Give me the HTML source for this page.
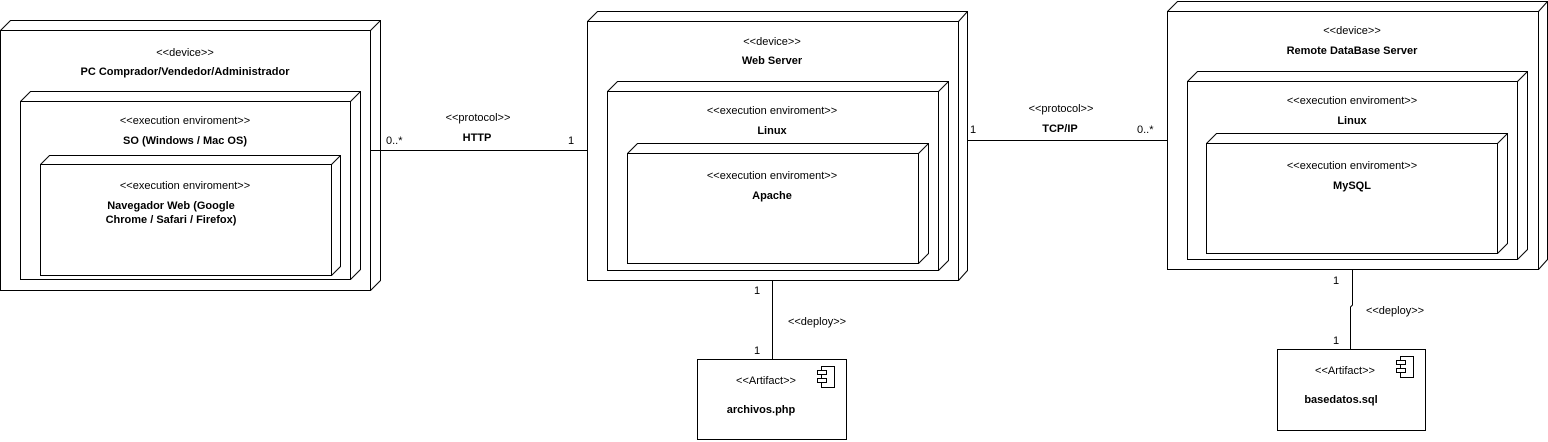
<!DOCTYPE html>
<html><head><meta charset="utf-8"><style>
html,body{margin:0;padding:0;background:#fff}
svg{display:block}
text{font-family:"Liberation Sans",Arial,sans-serif;font-size:11px;fill:#000}
.b{font-weight:bold}
</style></head><body>
<svg width="1548" height="442" viewBox="0 0 1548 442" xmlns="http://www.w3.org/2000/svg">
<g fill="#fff" stroke="#000" stroke-width="1">
<!-- left device -->
<path d="M0.5 30.5 L10.5 20.5 L380.5 20.5 L380.5 280.5 L370.5 290.5"/>
<rect x="0.5" y="30.5" width="370" height="260"/>
<path d="M370.5 30.5 L380.5 20.5"/>
<path d="M20.5 101.5 L30.5 91.5 L360.5 91.5 L360.5 269.5 L350.5 279.5"/>
<rect x="20.5" y="101.5" width="330" height="178"/>
<path d="M350.5 101.5 L360.5 91.5"/>
<path d="M40.5 164.5 L49.5 155.5 L340.5 155.5 L340.5 266.5 L331.5 275.5"/>
<rect x="40.5" y="164.5" width="291" height="111"/>
<path d="M331.5 164.5 L340.5 155.5"/>
<!-- web server -->
<path d="M587.5 21.5 L597.5 11.5 L967.5 11.5 L967.5 270.5 L958.5 280.5"/>
<rect x="587.5" y="21.5" width="371" height="259"/>
<path d="M958.5 21.5 L967.5 11.5"/>
<path d="M607.5 91.5 L617.5 81.5 L948.5 81.5 L948.5 260.5 L938.5 270.5"/>
<rect x="607.5" y="91.5" width="331" height="179"/>
<path d="M938.5 91.5 L948.5 81.5"/>
<path d="M627.5 153.5 L637.5 143.5 L928.5 143.5 L928.5 253.5 L918.5 263.5"/>
<rect x="627.5" y="153.5" width="291" height="110"/>
<path d="M918.5 153.5 L928.5 143.5"/>
<!-- remote db -->
<path d="M1167.5 11.5 L1177.5 1.5 L1547.5 1.5 L1547.5 259.5 L1538.5 269.5"/>
<rect x="1167.5" y="11.5" width="371" height="258"/>
<path d="M1538.5 11.5 L1547.5 1.5"/>
<path d="M1187.5 81.5 L1197.5 71.5 L1527.5 71.5 L1527.5 249.5 L1517.5 259.5"/>
<rect x="1187.5" y="81.5" width="330" height="178"/>
<path d="M1517.5 81.5 L1527.5 71.5"/>
<path d="M1206.5 143.5 L1216.5 133.5 L1507.5 133.5 L1507.5 243.5 L1497.5 253.5"/>
<rect x="1206.5" y="143.5" width="291" height="110"/>
<path d="M1497.5 143.5 L1507.5 133.5"/>
<!-- artifacts -->
<rect x="697.5" y="359.5" width="149" height="80"/>
<rect x="821.5" y="366.5" width="13" height="21"/>
<rect x="817.5" y="370.5" width="9" height="4"/>
<rect x="817.5" y="378.5" width="9" height="4"/>
<rect x="1277.5" y="349.5" width="148" height="81"/>
<rect x="1400.5" y="356.5" width="13" height="21"/>
<rect x="1396.5" y="360.5" width="9" height="4"/>
<rect x="1396.5" y="368.5" width="9" height="4"/>
</g>
<g stroke="#000" fill="none" stroke-width="1">
<path d="M371 150.5 L587 150.5"/>
<path d="M968 140.5 L1167 140.5"/>
<path d="M772.5 281 L772.5 359"/>
<path d="M1352.5 270 L1352.5 305 L1350.5 307 L1350.5 349"/>
</g>
<g text-anchor="middle">
<text x="185" y="56">&lt;&lt;device&gt;&gt;</text>
<text x="185" y="75" class="b">PC Comprador/Vendedor/Administrador</text>
<text x="185" y="124">&lt;&lt;execution enviroment&gt;&gt;</text>
<text x="185" y="144" class="b">SO (Windows / Mac OS)</text>
<text x="185" y="189">&lt;&lt;execution enviroment&gt;&gt;</text>
<text x="171" y="209" class="b">Navegador Web (Google</text>
<text x="171" y="223" class="b">Chrome / Safari / Firefox)</text>

<text x="772" y="45">&lt;&lt;device&gt;&gt;</text>
<text x="772" y="64" class="b">Web Server</text>
<text x="772" y="114">&lt;&lt;execution enviroment&gt;&gt;</text>
<text x="772" y="134" class="b">Linux</text>
<text x="772" y="179">&lt;&lt;execution enviroment&gt;&gt;</text>
<text x="772" y="199" class="b">Apache</text>

<text x="1352" y="34">&lt;&lt;device&gt;&gt;</text>
<text x="1352" y="54" class="b">Remote DataBase Server</text>
<text x="1352" y="104">&lt;&lt;execution enviroment&gt;&gt;</text>
<text x="1352" y="124" class="b">Linux</text>
<text x="1352" y="169">&lt;&lt;execution enviroment&gt;&gt;</text>
<text x="1352" y="189" class="b">MySQL</text>

<text x="478" y="121">&lt;&lt;protocol&gt;&gt;</text>
<text x="477" y="141" class="b">HTTP</text>
<text x="1061" y="112">&lt;&lt;protocol&gt;&gt;</text>
<text x="1060" y="132" class="b">TCP/IP</text>

<text x="766" y="384">&lt;&lt;Artifact&gt;&gt;</text>
<text x="761" y="413" class="b">archivos.php</text>
<text x="1345" y="374">&lt;&lt;Artifact&gt;&gt;</text>
<text x="1341" y="403" class="b">basedatos.sql</text>
<text x="817" y="325">&lt;&lt;deploy&gt;&gt;</text>
<text x="1395" y="314">&lt;&lt;deploy&gt;&gt;</text>
</g>
<text x="386" y="144">0..*</text>
<text x="568" y="144">1</text>
<text x="970" y="133">1</text>
<text x="1137" y="133">0..*</text>
<text x="754" y="294">1</text>
<text x="754" y="354">1</text>
<text x="1333" y="284">1</text>
<text x="1333" y="344">1</text>
</svg>
</body></html>
